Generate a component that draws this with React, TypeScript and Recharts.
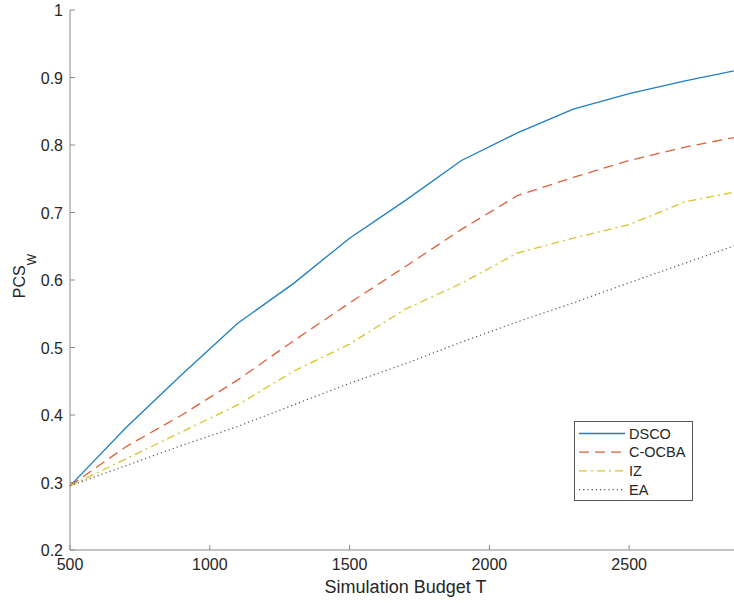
import { LineChart, Line, XAxis, YAxis, Legend } from "recharts"

// budget levels (x) and PCS_W values per procedure
const BUDGET = [500, 700, 900, 1100, 1300, 1500, 1700, 1900, 2100, 2300, 2500, 2700, 2900]
const DSCO = [0.295, 0.381, 0.46, 0.536, 0.595, 0.662, 0.718, 0.777, 0.818, 0.853, 0.876, 0.895, 0.912]
const C_OCBA = [0.295, 0.353, 0.4, 0.452, 0.51, 0.566, 0.62, 0.675, 0.725, 0.752, 0.777, 0.797, 0.813]
const IZ = [0.295, 0.335, 0.375, 0.415, 0.465, 0.505, 0.557, 0.595, 0.64, 0.662, 0.682, 0.716, 0.732]
const EA = [0.295, 0.325, 0.355, 0.383, 0.415, 0.447, 0.476, 0.508, 0.538, 0.566, 0.596, 0.625, 0.654]

const X_TICKS = [500, 1000, 1500, 2000, 2500]
const Y_TICKS = [0.2, 0.3, 0.4, 0.5, 0.6, 0.7, 0.8, 0.9, 1]

const SERIES = [
  { key: "DSCO", color: "#1f7fc0", dash: undefined, width: 1.3 },
  { key: "C-OCBA", color: "#e0603a", dash: "10 6", width: 1.3 },
  { key: "IZ", color: "#d8c42a", dash: "8 4 2 4", width: 1.3 },
  { key: "EA", color: "#555", dash: "1.2 3", width: 1.2 },
]

const data = BUDGET.map((t, i) => ({
  t,
  DSCO: DSCO[i],
  "C-OCBA": C_OCBA[i],
  IZ: IZ[i],
  EA: EA[i],
}))

const AXIS = "#8a8a8a"
const TEXT = "#262626"
const FONT = "'Liberation Sans', Arial, sans-serif"

const XTick = (props: any) => {
  const { x, y, payload } = props
  return (
    <g>
      <line x1={x} y1={y} x2={x} y2={y - 5} stroke={AXIS} />
      <text x={x} y={y + 20} textAnchor="middle" fill={TEXT} fontSize={16} fontFamily={FONT}>
        {payload.value}
      </text>
    </g>
  )
}

const TopTick = (props: any) => {
  const { x, y } = props
  return <line x1={x} y1={y} x2={x} y2={y + 5} stroke={AXIS} />
}

const YTick = (props: any) => {
  const { x, y, payload } = props
  const v = payload.value
  return (
    <g>
      <line x1={x} y1={y} x2={x + 5} y2={y} stroke={AXIS} />
      <text x={x - 7} y={y + 6} textAnchor="end" fill={TEXT} fontSize={16} fontFamily={FONT}>
        {v === 1 ? "1" : v.toFixed(1)}
      </text>
    </g>
  )
}

const YLabel = (props: any) => {
  const vb = props.viewBox || { x: 0, y: 10, width: 70, height: 540 }
  const cx = vb.x + 25
  const cy = vb.y + vb.height / 2 - 4
  return (
    <text
      x={cx}
      y={cy}
      transform={`rotate(-90 ${cx} ${cy})`}
      textAnchor="middle"
      fill={TEXT}
      fontSize={16}
      fontFamily={FONT}
    >
      <tspan>PCS</tspan>
      <tspan fontSize={12} dy={11}>W</tspan>
    </text>
  )
}

const LegendBox = () => (
  <svg width={120} height={81} style={{ display: "block" }}>
    <rect x={0.5} y={0.5} width={118} height={79} fill="#fff" stroke="#555" />
    {SERIES.map((s, i) => {
      const y = 12.5 + i * 18.7
      return (
        <g key={s.key}>
          <line x1={5} y1={y} x2={51} y2={y} stroke={s.color} strokeWidth={s.width} strokeDasharray={s.dash} />
          <text x={55} y={y + 5} fill={TEXT} fontSize={14.5} fontFamily={FONT}>
            {s.key}
          </text>
        </g>
      )
    })}
  </svg>
)

export default function App() {
  return (
    <div
      style={{
        position: "fixed",
        left: 0,
        top: 0,
        width: 734,
        height: 603,
        overflow: "hidden",
        background: "#fff",
      }}
    >
      <LineChart width={751} height={603} data={data} margin={{ top: 10, right: 10, bottom: 0, left: 0 }}>
        <XAxis
          dataKey="t"
          type="number"
          domain={[500, 2900]}
          ticks={X_TICKS}
          interval={0}
          tickSize={0}
          tickMargin={0}
          tickLine={false}
          tick={<XTick />}
          height={53}
          stroke={AXIS}
          label={{
            value: "Simulation Budget T",
            position: "insideBottom",
            offset: 10,
            fill: TEXT,
            fontSize: 18,
            fontFamily: FONT,
          }}
        />
        <XAxis
          xAxisId="top"
          dataKey="t"
          type="number"
          orientation="top"
          domain={[500, 2900]}
          ticks={X_TICKS}
          interval={0}
          tickSize={0}
          tickMargin={0}
          tickLine={false}
          tick={<TopTick />}
          height={0}
          stroke={AXIS}
        />
        <YAxis
          type="number"
          domain={[0.2, 1]}
          ticks={Y_TICKS}
          interval={0}
          width={70}
          tickSize={0}
          tickMargin={0}
          tickLine={false}
          tick={<YTick />}
          stroke={AXIS}
          label={{ content: <YLabel /> }}
        />
        <Legend
          layout="horizontal"
          align="center"
          verticalAlign="middle"
          content={<LegendBox />}
          wrapperStyle={{ position: "absolute", left: 574, top: 421, width: 120, height: 81 }}
        />
        {SERIES.map((s) => (
          <Line
            key={s.key}
            dataKey={s.key}
            type="linear"
            stroke={s.color}
            strokeWidth={s.width}
            strokeDasharray={s.dash}
            dot={false}
            activeDot={false}
            isAnimationActive={false}
          />
        ))}
      </LineChart>
    </div>
  )
}
